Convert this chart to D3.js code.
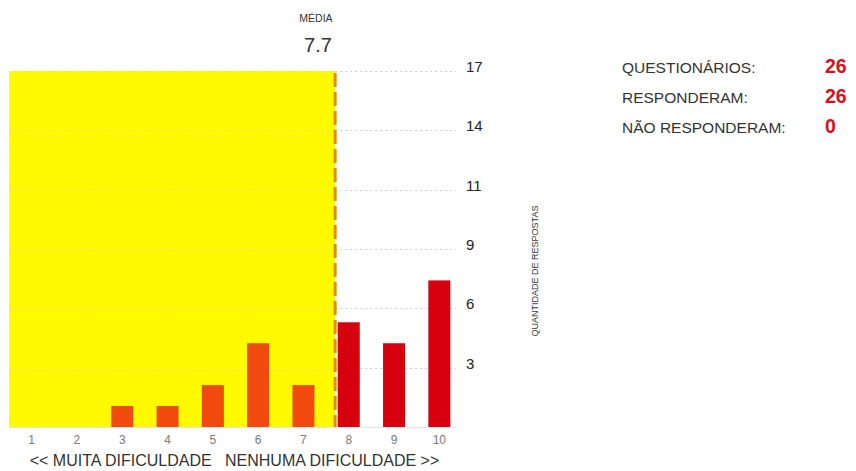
<!DOCTYPE html>
<html>
<head>
<meta charset="utf-8">
<script src="https://cdn.jsdelivr.net/npm/d3@7/dist/d3.min.js"></script>
<style>
  html, body { margin: 0; padding: 0; background: #fff; }
  svg { display: block; }
  text { font-family: "Liberation Sans", Arial, sans-serif; }
</style>
</head>
<body>
<svg id="chart" width="856" height="471"></svg>
<script>
// ---- data ----
const categories = [1, 2, 3, 4, 5, 6, 7, 8, 9, 10];
const counts = [0, 0, 1, 1, 2, 4, 2, 5, 4, 7];
const meanValue = 7.7;
const yMax = 17;
const yTickLabels = ["3", "6", "9", "11", "14", "17"];
const summaryLabels = ["QUESTIONÁRIOS:", "RESPONDERAM:", "NÃO RESPONDERAM:"];
const summaryValues = [26, 26, 0];
const axisTitle = "QUANTIDADE DE RESPOSTAS";
const bottomLabel = "<< MUITA DIFICULDADE   NENHUMA DIFICULDADE >>";

const svg = d3.select("#chart");

const x = d3.scaleLinear().domain([0.5, 10.5]).range([9, 462]);
const y = d3.scaleLinear().domain([0, yMax]).range([427, 71]);
const barW = 22;

// yellow region up to the mean
svg.append("rect")
  .attr("x", x(0.5)).attr("y", y(yMax))
  .attr("width", x(meanValue) - x(0.5))
  .attr("height", y(0) - y(yMax))
  .attr("fill", "#fffa00");

// gridlines
const tickVals = yTickLabels.map((_, i) => yMax * (i + 1) / yTickLabels.length);
const grid = svg.append("g");
grid.selectAll("line.gin").data(tickVals).join("line")
  .attr("class", "gin")
  .attr("x1", x(0.5)).attr("x2", x(meanValue))
  .attr("y1", d => Math.round(y(d)) + 0.5).attr("y2", d => Math.round(y(d)) + 0.5)
  .attr("stroke", "#ece66a").attr("stroke-width", 1)
  .attr("stroke-dasharray", "2,3");
grid.selectAll("line.gout").data(tickVals).join("line")
  .attr("class", "gout")
  .attr("x1", x(meanValue)).attr("x2", 456)
  .attr("y1", d => Math.round(y(d)) + 0.5).attr("y2", d => Math.round(y(d)) + 0.5)
  .attr("stroke", "#cfcfcf").attr("stroke-width", 1)
  .attr("stroke-dasharray", "2,3");

// baseline
svg.append("line")
  .attr("x1", x(0.5)).attr("x2", 456)
  .attr("y1", y(0) + 0.5).attr("y2", y(0) + 0.5)
  .attr("stroke", "#e4e4e4");

// bars
const data = categories.map((c, i) => ({ c, v: counts[i] }));
svg.append("g").selectAll("rect").data(data.filter(d => d.v > 0)).join("rect")
  .attr("x", d => x(d.c) - barW / 2)
  .attr("y", d => y(d.v))
  .attr("width", barW)
  .attr("height", d => y(0) - y(d.v))
  .attr("fill", d => d.c <= Math.floor(meanValue) ? "#f04a0e" : "#d7000f");

// mean line
svg.append("line")
  .attr("x1", x(meanValue)).attr("x2", x(meanValue))
  .attr("y1", y(yMax) + 2).attr("y2", y(0))
  .attr("stroke", "#ea8a0c").attr("stroke-width", 3)
  .attr("stroke-dasharray", "14,5");
svg.append("text")
  .attr("x", 316).attr("y", 22)
  .attr("text-anchor", "middle")
  .attr("font-size", 10.5).attr("fill", "#333")
  .text("MÉDIA");
svg.append("text")
  .attr("x", 318).attr("y", 52)
  .attr("text-anchor", "middle")
  .attr("font-size", 20).attr("fill", "#333")
  .text(d3.format(".1f")(meanValue));

// y tick labels (right)
svg.append("g").selectAll("text").data(tickVals).join("text")
  .attr("x", 466)
  .attr("y", d => y(d) + 1)
  .attr("font-size", 15).attr("fill", "#222")
  .text((d, i) => yTickLabels[i]);

// y axis title
svg.append("text")
  .attr("transform", `translate(538, ${y(yMax / 2) + 22}) rotate(-90)`)
  .attr("text-anchor", "middle")
  .attr("font-size", 9).attr("fill", "#333")
  .text(axisTitle);

// x tick labels
svg.append("g").selectAll("text").data(categories).join("text")
  .attr("x", d => x(d))
  .attr("y", 444)
  .attr("text-anchor", "middle")
  .attr("font-size", 12).attr("fill", "#7a7a7a")
  .text(d => d);

svg.append("text")
  .attr("x", x(5.5) - 1).attr("y", 466)
  .attr("text-anchor", "middle")
  .attr("font-size", 16).attr("fill", "#333")
  .attr("xml:space", "preserve")
  .style("white-space", "pre")
  .text(bottomLabel);

// summary panel
const sumG = svg.append("g");
summaryLabels.forEach((lab, i) => {
  sumG.append("text")
    .attr("x", 622).attr("y", 73 + i * 30)
    .attr("font-size", 15.5).attr("fill", "#333")
    .text(lab);
  sumG.append("text")
    .attr("x", 825).attr("y", 73 + i * 30)
    .attr("font-size", 19.5).attr("font-weight", "bold").attr("fill", "#d7101c")
    .text(summaryValues[i]);
});
</script>
</body>
</html>
